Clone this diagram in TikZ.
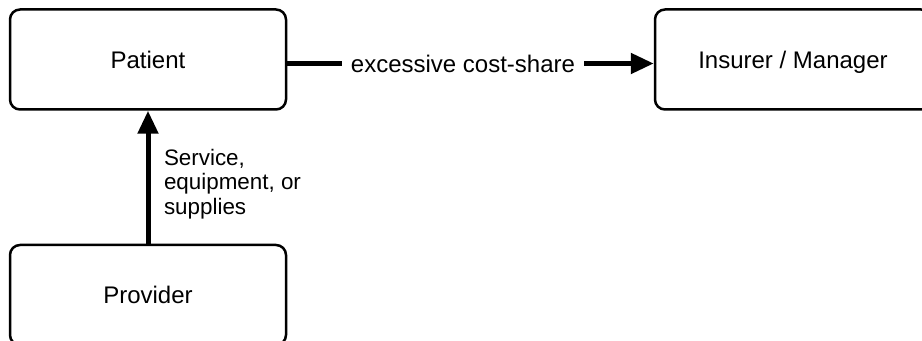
\documentclass[tikz,border=0pt]{standalone}
\usepackage{fontspec}
\setmainfont{Liberation Sans}
\usetikzlibrary{arrows.meta}
\tikzset{
	party/.style={draw=black, line width=1.25pt, rounded corners=5pt, minimum width=138pt, minimum height=50pt, text height=8.6pt, text depth=0pt, font=\fontsize{12}{14}\selectfont},
	flow/.style={line width=2.5pt, -{Triangle[length=11.5pt,width=10pt]}}
}
\begin{document}
\begin{tikzpicture}[x=0.5pt, y=-0.5pt]
		\useasboundingbox (0,0) rectangle (922,341);
		\clip (0,0) rectangle (922,341);
		\node [party] (patient) at (148, 59.5) {Patient};
		\node [party] (insurer) at (793, 59.5) {Insurer / Manager};
		\node [party] (provider) at (148, 295) {Provider};
		\node [inner xsep=4.5pt, inner ysep=2pt, text height=8.6pt, text depth=0pt, font=\fontsize{12}{14}\selectfont] (costshare) at (463, 63.5) {excessive cost-share};
		\draw [line width=2.5pt] (patient.east |- costshare) -- (costshare.west);
		\draw [flow] (costshare.east) -- (insurer.west |- costshare);
		\draw [flow] (provider) -- node [right=6.75pt, pos=0.45, align=left, inner sep=0pt, font=\fontsize{11.2}{12.25}\selectfont] (goods) {Service,\\equipment, or\\supplies} (patient);
	\end{tikzpicture}
\end{document}
